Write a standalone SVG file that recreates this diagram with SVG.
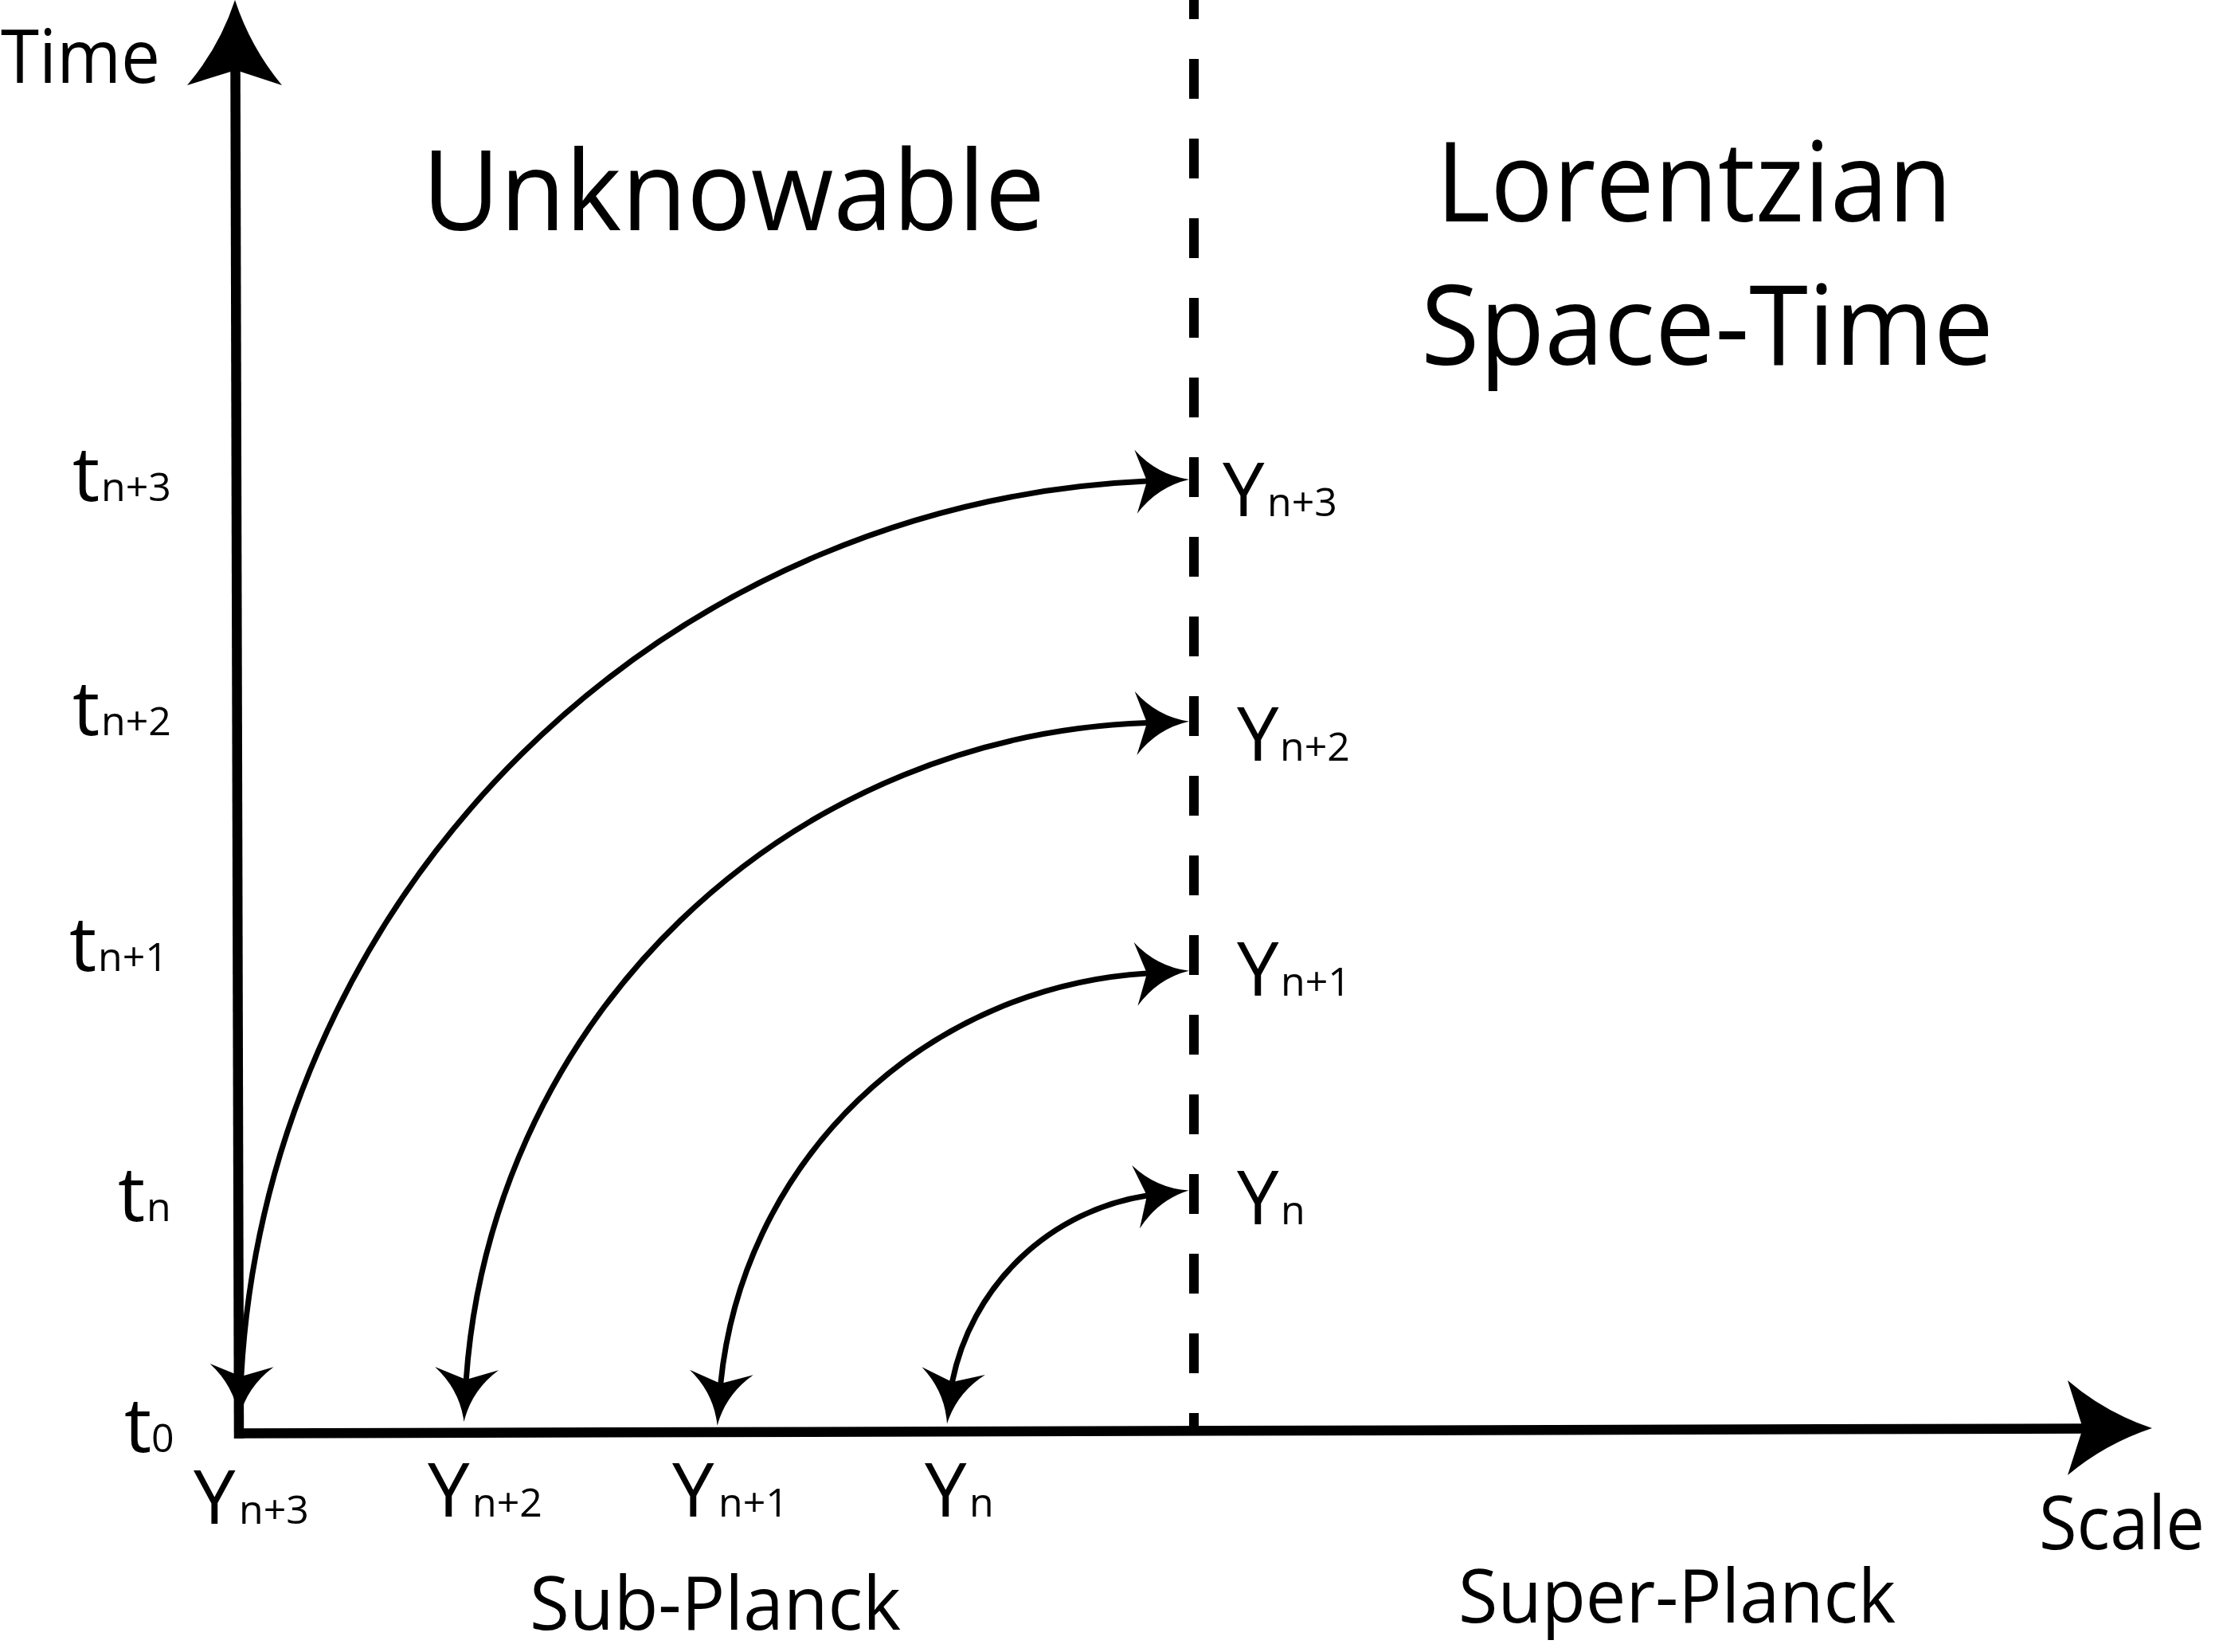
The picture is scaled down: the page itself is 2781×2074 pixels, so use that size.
<svg xmlns="http://www.w3.org/2000/svg" width="2781" height="2074" viewBox="0 0 2781 2074">
<style>
.lbl{font-family:"Open Sans","Noto Sans","Liberation Sans",sans-serif;fill:#000}
.big{font-size:140px}
.mid{font-size:94px}
.tl{font-size:96px}
.sub{font-size:50px}
.axis{stroke:#000;stroke-width:12.5;fill:none}
.arc{stroke:#000;stroke-width:7;fill:none}
.div{stroke:#000;stroke-width:12;stroke-dasharray:50 50;fill:none}
.head{fill:#000}
</style>
<defs>
<path id="ah" d="M0,0 Q-40,-7.4 -67,-40 L-53,0 L-67,40 Q-40,7.4 0,0 Z"/>
</defs>
<rect width="2781" height="2074" fill="#fff"/>

<g id="axes">
<line class="axis" x1="295.5" y1="80" x2="300" y2="1806"/>
<line class="axis" x1="294" y1="1799.5" x2="2620" y2="1793.5"/>
<path class="head" d="M295,0 Q275.5,59.4 235,107 L296,88 L354,107 Q314.5,59.4 295,0 Z"/>
<path class="head" d="M2702,1793 Q2643,1773.4 2596,1733 L2615,1793 L2596,1852 Q2643,1812.6 2702,1793 Z"/>
</g>

<g id="planck-divider">
<line class="div" x1="1499" y1="-26" x2="1499" y2="1796"/>
</g>

<g id="connectors">
<path class="arc" d="M302.8,1728 A1191,1191 0 0 1 1440,604.1"/>
<path class="arc" d="M585.3,1732 A887,887 0 0 1 1440,907.5"/>
<path class="arc" d="M904.8,1737 A573,573 0 0 1 1440,1222"/>
<path class="arc" d="M1195.5,1735 A296,296 0 0 1 1440,1501"/>
<use href="#ah" class="head" transform="translate(1493,601.9) rotate(-2.4)"/>
<use href="#ah" class="head" transform="translate(1493,905.7) rotate(-1.9)"/>
<use href="#ah" class="head" transform="translate(1492.9,1218.8) rotate(-3.5)"/>
<use href="#ah" class="head" transform="translate(1492.6,1494.5) rotate(-7)"/>
<use href="#ah" class="head" transform="translate(300,1781) rotate(93)"/>
<use href="#ah" class="head" transform="translate(582.5,1785) rotate(93)"/>
<use href="#ah" class="head" transform="translate(900.6,1789.8) rotate(94.5)"/>
<use href="#ah" class="head" transform="translate(1189,1787.6) rotate(97)"/>
</g>

<g id="title-time"><text class="lbl mid" x="1" y="104" textLength="200" lengthAdjust="spacingAndGlyphs">Time</text></g>
<g id="title-scale"><text class="lbl mid" x="2560" y="1945" textLength="208" lengthAdjust="spacingAndGlyphs">Scale</text></g>
<g id="region-unknowable"><text class="lbl big" x="530" y="289" textLength="782" lengthAdjust="spacingAndGlyphs">Unknowable</text></g>
<g id="region-lorentzian">
<text class="lbl big" x="1803" y="278" textLength="648" lengthAdjust="spacingAndGlyphs">Lorentzian</text>
<text class="lbl big" x="1784" y="458" textLength="719" lengthAdjust="spacingAndGlyphs">Space-Time</text>
</g>
<g id="region-sub-planck"><text class="lbl mid" x="665" y="2046" textLength="466" lengthAdjust="spacingAndGlyphs">Sub-Planck</text></g>
<g id="region-super-planck"><text class="lbl mid" x="1831" y="2037" textLength="549" lengthAdjust="spacingAndGlyphs">Super-Planck</text></g>

<g id="t-n3"><text class="lbl" y="629"><tspan class="tl" x="91">t</tspan><tspan class="sub" x="127">n+3</tspan></text></g>
<g id="t-n2"><text class="lbl" y="923"><tspan class="tl" x="91">t</tspan><tspan class="sub" x="127">n+2</tspan></text></g>
<g id="t-n1"><text class="lbl" y="1219"><tspan class="tl" x="87">t</tspan><tspan class="sub" x="123">n+1</tspan></text></g>
<g id="t-n"><text class="lbl" y="1533"><tspan class="tl" x="148">t</tspan><tspan class="sub" x="184">n</tspan></text></g>
<g id="t-0"><text class="lbl" y="1823"><tspan class="tl" x="156">t</tspan><tspan class="sub" x="190">0</tspan></text></g>

<g id="y-n3-right"><text class="lbl" y="648"><tspan class="mid" x="1535">Y</tspan><tspan class="sub" x="1591">n+3</tspan></text></g>
<g id="y-n2-right"><text class="lbl" y="955"><tspan class="mid" x="1553">Y</tspan><tspan class="sub" x="1607">n+2</tspan></text></g>
<g id="y-n1-right"><text class="lbl" y="1250"><tspan class="mid" x="1553">Y</tspan><tspan class="sub" x="1608">n+1</tspan></text></g>
<g id="y-n-right"><text class="lbl" y="1537"><tspan class="mid" x="1553">Y</tspan><tspan class="sub" x="1608">n</tspan></text></g>

<g id="y-n3-bottom"><text class="lbl" y="1913"><tspan class="mid" x="243">Y</tspan><tspan class="sub" x="300">n+3</tspan></text></g>
<g id="y-n2-bottom"><text class="lbl" y="1904"><tspan class="mid" x="537">Y</tspan><tspan class="sub" x="593">n+2</tspan></text></g>
<g id="y-n1-bottom"><text class="lbl" y="1904"><tspan class="mid" x="844">Y</tspan><tspan class="sub" x="902">n+1</tspan></text></g>
<g id="y-n-bottom"><text class="lbl" y="1904"><tspan class="mid" x="1161">Y</tspan><tspan class="sub" x="1217">n</tspan></text></g>
</svg>
